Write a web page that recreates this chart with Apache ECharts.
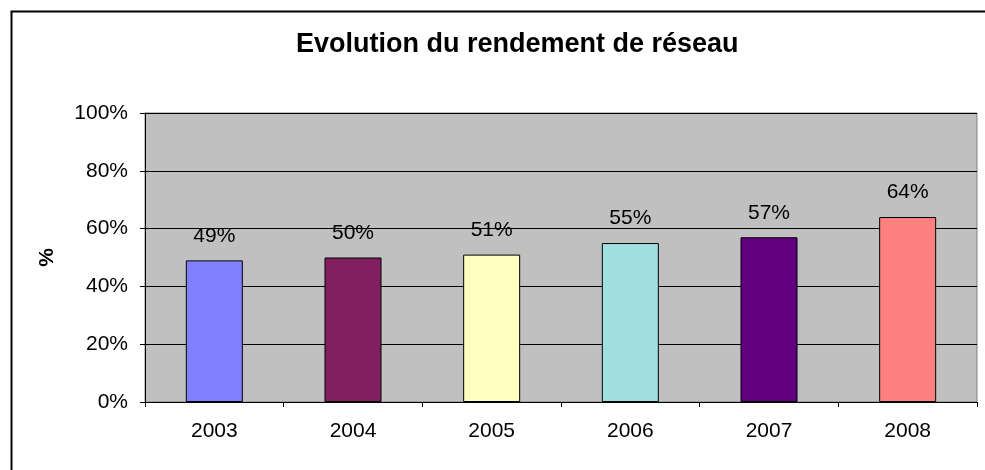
<!DOCTYPE html>
<html>
<head>
<meta charset="utf-8">
<script src="https://cdn.jsdelivr.net/npm/echarts@6/dist/echarts.min.js"></script>
<style>
  html, body { margin: 0; padding: 0; background: #fff; }
  #chart { width: 985px; height: 470px; }
</style>
</head>
<body>
<div id="chart"></div>
<script>
// data
const years = ['2003', '2004', '2005', '2006', '2007', '2008'];
const rendement = [49, 50, 51, 55, 57, 64];
const barColors = ['#8080FF', '#802060', '#FFFFC0', '#A0E0E0', '#600080', '#FF8080'];
const yTicks = [0, 20, 40, 60, 80, 100];

const font = 'Arial, "Liberation Sans", sans-serif';

const chart = echarts.init(document.getElementById('chart'));

let barData = [];
for (let i = 0; i < rendement.length; ++i) {
    barData.push({
        value: rendement[i],
        itemStyle: { color: barColors[i] }
    });
}

const options = {
    animation: false,
    backgroundColor: '#fff',
    title: {
        text: 'Evolution du rendement de réseau',
        left: 296,
        top: 31,
        padding: 0,
        textStyle: {
            fontFamily: font,
            fontSize: 27,
            fontWeight: 'bold',
            color: '#000'
        }
    },
    graphic: [
        {
            // chart frame (only top and left edges fall inside the picture)
            type: 'rect',
            left: 9,
            top: 9,
            shape: { width: 1200, height: 1000 },
            style: { fill: null, stroke: '#000', lineWidth: 2 },
            silent: true,
            z: 100
        }
    ],
    grid: {
        left: 145,
        right: 8,
        top: 113,
        bottom: 68,
        show: true,
        backgroundColor: '#C0C0C0',
        borderColor: '#808080',
        borderWidth: 1
    },
    xAxis: {
        type: 'category',
        data: years,
        boundaryGap: true,
        axisLine: { lineStyle: { color: '#000', width: 1 } },
        axisTick: { show: true, length: 5, lineStyle: { color: '#000' } },
        axisLabel: {
            margin: 19,
            fontFamily: font,
            fontSize: 21,
            color: '#000'
        }
    },
    yAxis: {
        type: 'value',
        min: yTicks[0],
        max: yTicks[yTicks.length - 1],
        interval: yTicks[1] - yTicks[0],
        name: '%',
        nameLocation: 'middle',
        nameGap: 87,
        nameRotate: 90,
        nameTextStyle: {
            fontFamily: font,
            fontSize: 21,
            fontWeight: 'bold',
            color: '#000'
        },
        axisLine: { show: true, lineStyle: { color: '#000', width: 1 } },
        axisTick: { show: true, length: 5, lineStyle: { color: '#000' } },
        axisLabel: {
            margin: 17,
            formatter: '{value}%',
            fontFamily: font,
            fontSize: 21,
            color: '#000'
        },
        splitLine: { show: true, lineStyle: { color: '#000', width: 1 } }
    },
    series: [
        {
            type: 'bar',
            data: barData,
            barWidth: 57,
            itemStyle: { borderColor: '#000', borderWidth: 1 },
            label: {
                show: true,
                position: 'top',
                distance: 14,
                formatter: '{c}%',
                fontFamily: font,
                fontSize: 21,
                color: '#000'
            }
        }
    ]
};

chart.setOption(options, true);
</script>
</body>
</html>
